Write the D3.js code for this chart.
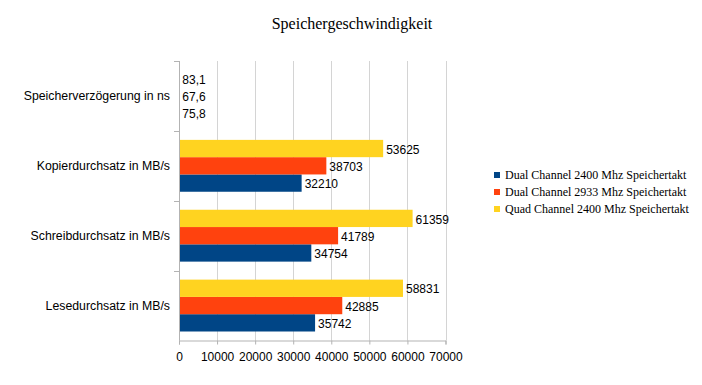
<!DOCTYPE html>
<html>
<head>
<meta charset="utf-8">
<script src="https://cdn.jsdelivr.net/npm/d3@7"></script>
<style>
  body { margin: 0; background: #fff; }
</style>
</head>
<body>
<div id="chart"></div>
<script>
// Daten
const categories = ["Lesedurchsatz in MB/s", "Schreibdurchsatz in MB/s", "Kopierdurchsatz in MB/s", "Speicherverzögerung in ns"];
const seriesNames = ["Dual Channel 2400 Mhz Speichertakt", "Dual Channel 2933 Mhz Speichertakt", "Quad Channel 2400 Mhz Speichertakt"];
const seriesColors = ["#004586", "#ff420e", "#ffd320"];
const dual2400 = [35742, 34754, 32210, 75.8];
const dual2933 = [42885, 41789, 38703, 67.6];
const quad2400 = [58831, 61359, 53625, 83.1];
const xTicks = [0, 10000, 20000, 30000, 40000, 50000, 60000, 70000];

const seriesValues = [dual2400, dual2933, quad2400];

// Maße
const W = 702, H = 385;
const plot = { left: 179, right: 445.5, top: 61, bottom: 340.5 };

const svg = d3.select("#chart").append("svg")
  .attr("width", W)
  .attr("height", H)
  .style("font-family", "'Liberation Sans', Arial, sans-serif");

// Titel
svg.append("text")
  .attr("x", 352)
  .attr("y", 29)
  .attr("text-anchor", "middle")
  .style("font-family", "'Liberation Serif', 'Times New Roman', serif")
  .style("font-size", "16px")
  .attr("fill", "#000")
  .text("Speichergeschwindigkeit");

// Skalen
const x = d3.scaleLinear().domain([0, 70000]).range([plot.left, plot.right]);

// Kategorien von unten nach oben
const y = d3.scaleBand()
  .domain(categories)
  .range([plot.bottom, plot.top]);

// innerhalb der Kategorie: Serie 0 unten
const ySub = d3.scaleBand()
  .domain(d3.range(seriesNames.length))
  .range([y.bandwidth() - 9, 9]);

// Gitterlinien
svg.append("g")
  .selectAll("line")
  .data(xTicks)
  .enter().append("line")
    .attr("x1", d => Math.round(x(d)) + 0.5)
    .attr("x2", d => Math.round(x(d)) + 0.5)
    .attr("y1", plot.top)
    .attr("y2", plot.bottom)
    .attr("stroke", d => d === 0 ? "#b3b3b3" : "#d4d4d4")
    .attr("stroke-width", 1);

// Balken
const groups = svg.append("g")
  .selectAll("g")
  .data(categories)
  .enter().append("g")
    .attr("transform", d => `translate(0,${y(d)})`);

groups.each(function(cat, ci) {
  const g = d3.select(this);
  seriesValues.forEach((vals, si) => {
    const v = vals[ci];
    g.append("rect")
      .attr("x", x(0))
      .attr("y", ySub(si))
      .attr("width", x(v) - x(0))
      .attr("height", ySub.bandwidth())
      .attr("fill", seriesColors[si]);
    g.append("text")
      .attr("x", x(v) + 3)
      .attr("y", ySub(si) + ySub.bandwidth() / 2 + 1)
      .attr("dy", "0.35em")
      .style("font-size", "12px")
      .attr("fill", "#000")
      .text(v < 1000 ? d3.format(".1f")(v).replace(".", ",") : String(v));
  });
});

// x-Achse
const xAxis = svg.append("g")
  .attr("transform", `translate(0,${plot.bottom})`)
  .call(d3.axisBottom(x).tickValues(xTicks).tickSize(4).tickPadding(8).tickFormat(d3.format("d")));
xAxis.select(".domain").attr("stroke", "#b3b3b3");
xAxis.selectAll(".tick line").attr("stroke", "#b3b3b3");
xAxis.selectAll(".tick text")
  .style("font-size", "12px")
  .style("font-family", "'Liberation Sans', Arial, sans-serif")
  .attr("fill", "#000");

// y-Achse
svg.append("line")
  .attr("x1", plot.left + 0.5).attr("x2", plot.left + 0.5)
  .attr("y1", plot.top).attr("y2", plot.bottom)
  .attr("stroke", "#b3b3b3");

const bounds = categories.map(c => y(c)).concat([plot.top]);
svg.append("g")
  .selectAll("line")
  .data(bounds)
  .enter().append("line")
    .attr("x1", plot.left - 5).attr("x2", plot.left)
    .attr("y1", d => Math.round(d) + 0.5)
    .attr("y2", d => Math.round(d) + 0.5)
    .attr("stroke", "#b3b3b3");

svg.append("g")
  .selectAll("text")
  .data(categories)
  .enter().append("text")
    .attr("x", 170)
    .attr("y", d => y(d) + y.bandwidth() / 2)
    .attr("dy", "0.35em")
    .attr("text-anchor", "end")
    .style("font-size", "12.3px")
    .attr("fill", "#000")
    .text(d => d);

// Legende
const legend = svg.append("g")
  .selectAll("g")
  .data(seriesNames)
  .enter().append("g")
    .attr("transform", (d, i) => `translate(494,${175 + i * 17})`);

legend.append("rect")
  .attr("x", 0).attr("y", -3)
  .attr("width", 6).attr("height", 6)
  .attr("fill", (d, i) => seriesColors[i]);

legend.append("text")
  .attr("x", 11)
  .attr("y", 0)
  .attr("dy", "0.35em")
  .style("font-family", "'Liberation Serif', 'Times New Roman', serif")
  .style("font-size", "12px")
  .attr("fill", "#000")
  .text(d => d);
</script>
</body>
</html>
